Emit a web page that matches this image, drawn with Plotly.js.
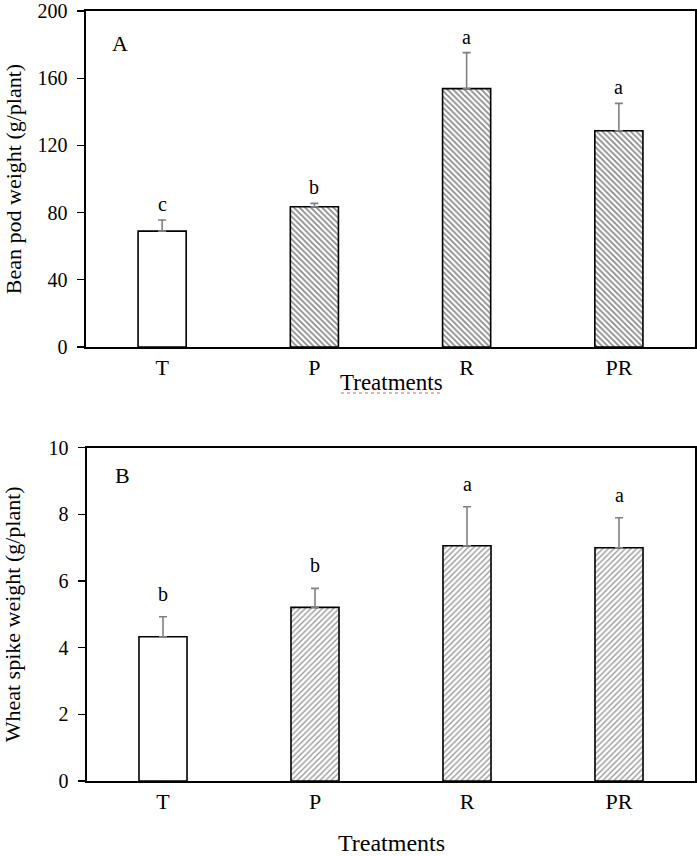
<!DOCTYPE html>
<html>
<head>
<meta charset="utf-8">
<script src="https://cdn.plot.ly/plotly-3.0.1.min.js"></script>
<style>html,body{margin:0;padding:0;background:#fff;}#chart{width:697px;height:856px;}</style>
</head>
<body>
<div id="chart"></div>
<script>
// ---- data ----
const treatments = ["T", "P", "R", "PR"];
const beanPodWeight = [69, 83.5, 153.8, 128.7];
const beanPodError = [6.6, 2.0, 21.4, 16.3];
const beanPodLetters = ["c", "b", "a", "a"];
const wheatSpikeWeight = [4.33, 5.21, 7.06, 7.0];
const wheatSpikeError = [0.6, 0.57, 1.17, 0.9];
const wheatSpikeLetters = ["b", "b", "a", "a"];
const beanTicks = [0, 40, 80, 120, 160, 200];
const wheatTicks = [0, 2, 4, 6, 8, 10];

const FONT = "Liberation Serif, Times New Roman, serif";

function barTrace(vals, errs, xa, ya, hatch, solidity, fg) {
  return {
    type: "bar", x: treatments, y: vals, xaxis: xa, yaxis: ya,
    width: 0.316,
    marker: {
      color: "#ffffff",
      line: {color: "#000000", width: 1.6},
      pattern: {
        shape: treatments.map((t, i) => i === 0 ? "" : hatch),
        fgcolor: fg, bgcolor: "#ffffff", size: 4, solidity: solidity
      }
    },
    error_y: {type: "data", symmetric: false, array: errs, arrayminus: errs.map(() => 0),
      color: "#808080", thickness: 1.6, width: 4},
    hoverinfo: "x+y", showlegend: false
  };
}

const data = [
  barTrace(beanPodWeight, beanPodError, "x", "y", "\\", 0.45, "#8a8a8a"),
  barTrace(wheatSpikeWeight, wheatSpikeError, "x2", "y2", "/", 0.35, "#9a9a9a")
];

const W = 697, H = 856, mL = 86, mR = 2, mT = 9, mB = 75;
const pw = W - mL - mR, ph = H - mT - mB;
function px2paperX(px) { return (px - mL) / pw; }
function px2paperY(py) { return (H - mB - py) / ph; }

const annotations = [];
treatments.forEach((t, i) => {
  annotations.push({x: t, y: beanPodWeight[i] + beanPodError[i], xref: "x", yref: "y",
    text: beanPodLetters[i], showarrow: false, xanchor: "center", yanchor: "bottom", yshift: 3,
    font: {family: FONT, size: 20, color: "#000"}});
  annotations.push({x: t, y: wheatSpikeWeight[i] + wheatSpikeError[i], xref: "x2", yref: "y2",
    text: wheatSpikeLetters[i], showarrow: false, xanchor: "center", yanchor: "bottom", yshift: 10,
    font: {family: FONT, size: 20, color: "#000"}});
});
function paperText(txt, px, py, size) {
  annotations.push({x: px2paperX(px), y: px2paperY(py), xref: "paper", yref: "paper", text: txt,
    showarrow: false, xanchor: "center", yanchor: "middle",
    font: {family: FONT, size: size, color: "#000"}});
}
paperText("A", 120, 43, 22);
paperText("B", 122, 476, 22);
paperText("Treatments", 391, 382, 23);
paperText("Treatments", 391, 843, 24);

const axisCommon = {
  showline: true, linecolor: "#000", linewidth: 1.6, mirror: true,
  showgrid: false, zeroline: false, ticklabeloverflow: "allow",
  tickfont: {family: FONT, size: 22, color: "#000"}
};
const yCommon = {ticks: "outside", ticklen: 7, tickwidth: 1.4, tickcolor: "#000",
  tickfont: {family: FONT, size: 20, color: "#000"}, ticklabelstandoff: 6};

const layout = {
  width: W, height: H,
  margin: {l: mL, r: mR, t: mT, b: mB},
  paper_bgcolor: "#fff", plot_bgcolor: "#fff",
  font: {family: FONT, color: "#000"},
  bargap: 0,
  xaxis: Object.assign({}, axisCommon, {domain: [0, 1], anchor: "y", range: [-0.5, 3.5],
    type: "category", ticks: ""}),
  yaxis: Object.assign({}, axisCommon, yCommon, {domain: [px2paperY(347), px2paperY(11)], anchor: "x",
    range: [0, 200], tickvals: beanTicks,
    title: {text: "Bean pod weight (g/plant)", font: {family: FONT, size: 22, color: "#000"}, standoff: 10}}),
  xaxis2: Object.assign({}, axisCommon, {domain: [px2paperX(87), 1], anchor: "y2", range: [-0.5, 3.5],
    type: "category", ticks: ""}),
  yaxis2: Object.assign({}, axisCommon, yCommon, {domain: [0, px2paperY(447.7)], anchor: "x2",
    range: [0, 10], tickvals: wheatTicks,
    title: {text: "Wheat spike weight (g/plant)", font: {family: FONT, size: 22, color: "#000"}, standoff: 21}}),
  annotations: annotations,
  shapes: [{type: "line", xref: "paper", yref: "paper",
    x0: px2paperX(341), x1: px2paperX(442), y0: px2paperY(393), y1: px2paperY(393),
    line: {color: "#e06060", width: 1, dash: "dot"}}]
};

Plotly.newPlot("chart", data, layout, {displayModeBar: false, staticPlot: true});
</script>
</body>
</html>
